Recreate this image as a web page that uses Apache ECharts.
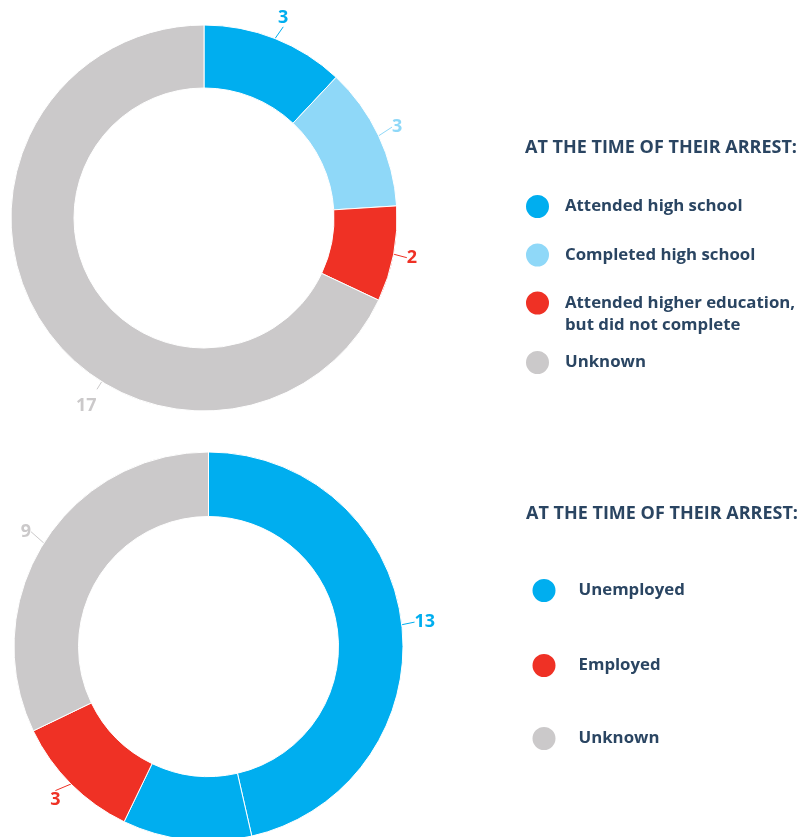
<!DOCTYPE html>
<html>
<head>
<meta charset="utf-8">
<script src="https://cdn.jsdelivr.net/npm/echarts@6/dist/echarts.min.js"></script>
<style>
  html, body { margin: 0; padding: 0; background: #fff; }
  #chart { width: 802px; height: 837px; }
</style>
</head>
<body>
<div id="chart"></div>
<script>
  // education at time of arrest
  var educationNames = ['Attended high school', 'Completed high school', 'Attended higher education, but did not complete', 'Unknown'];
  var educationValues = [3, 3, 2, 17];
  var educationColors = ['#00aeef', '#8fd8f8', '#ef3125', '#cbc9ca'];

  // employment at time of arrest (second blue slice has no label in the source)
  var employmentNames = ['Unemployed', '', 'Employed', 'Unknown'];
  var employmentValues = [13, 3, 3, 9];
  var employmentColors = ['#00aeef', '#00aeef', '#ef3125', '#cbc9ca'];
  var employmentLegend = ['Unemployed', 'Employed', 'Unknown'];

  var titleText = 'AT THE TIME OF THEIR ARREST:';
  var navy = '#2a4562';
  var font = 'Open Sans';

  // the "17" label in the source sits lower-left than the slice middle
  var unknownLabelAngle = 212;

  var topCenter = [204, 218], topRadius = [130, 193];
  var bottomCenter = [208.5, 646.5], bottomRadius = [130, 194.5];
  var lineLen = 9;

  function buildData(names, values, colors) {
    var out = [];
    for (var i = 0; i < values.length; i++) {
      var item = {
        name: names[i],
        value: values[i],
        itemStyle: { color: colors[i] },
        label: { color: colors[i] },
        labelLine: { lineStyle: { color: colors[i] } }
      };
      if (names[i] === '') {
        item.label = { show: false };
        item.labelLine = { show: false };
      }
      out.push(item);
    }
    return out;
  }

  // push each value label a bit further out along its label line
  function radialLabel(p) {
    var pts = p.labelLinePoints;
    if (!pts || pts.length < 2) return {};
    var dx = pts[1][0] - pts[0][0], dy = pts[1][1] - pts[0][1];
    var len = Math.sqrt(dx * dx + dy * dy) || 1;
    dx /= len; dy /= len;
    var end = pts[1];
    var res = {};
    var gap = 3;
    if (p.seriesIndex === 0 && p.dataIndex === 3) {
      var a = unknownLabelAngle * Math.PI / 180;
      dx = Math.sin(a); dy = -Math.cos(a);
      var start = [topCenter[0] + dx * topRadius[1], topCenter[1] + dy * topRadius[1]];
      end = [start[0] + dx * lineLen, start[1] + dy * lineLen];
      res.labelLinePoints = [start, end, end];
      gap = 7;
    }
    var off = gap + 0.5 * Math.abs(dx * p.labelRect.width) + 0.5 * Math.abs(dy * p.labelRect.height);
    res.x = end[0] + dx * off;
    res.y = end[1] + dy * off;
    res.align = 'center';
    res.verticalAlign = 'middle';
    return res;
  }

  function pieSeries(center, radius, data) {
    return {
      type: 'pie',
      center: center,
      radius: radius,
      startAngle: 90,
      clockwise: true,
      avoidLabelOverlap: false,
      itemStyle: { borderColor: '#fff', borderWidth: 1 },
      label: {
        show: true,
        position: 'outside',
        formatter: '{c}',
        fontFamily: font,
        fontWeight: 'bold',
        fontSize: 18
      },
      labelLine: { show: true, length: lineLen, length2: 0, lineStyle: { width: 1 } },
      labelLayout: radialLabel,
      emphasis: { disabled: true },
      data: data
    };
  }

  function legendItem(name, left, top, padLeft, padTop) {
    return {
      orient: 'vertical',
      left: left,
      top: top,
      padding: 0,
      data: [name],
      icon: 'circle',
      itemWidth: 25,
      itemHeight: 25,
      selectedMode: false,
      formatter: function (n) {
        // two-line entry: blank first line keeps the dot level with the first text line
        return n.indexOf(', ') > 0 ? '\n' + n.replace(', ', ',\n') : n;
      },
      textStyle: {
        color: navy,
        fontFamily: font,
        fontWeight: 'bold',
        fontSize: 16.8,
        lineHeight: 22,
        padding: [padTop, 0, 0, padLeft]
      }
    };
  }

  var legends = [];
  var topLegendTops = [193, 241.5, 270, 349];
  for (var i = 0; i < educationNames.length; i++) {
    legends.push(legendItem(educationNames[i], 524, topLegendTops[i], 10, 0));
  }
  var bottomLegendTops = [576.5, 651.5, 724.5];
  for (var j = 0; j < employmentLegend.length; j++) {
    legends.push(legendItem(employmentLegend[j], 530.5, bottomLegendTops[j], 17, 6));
  }

  var titleStyle = { color: navy, fontFamily: font, fontWeight: 'bold', fontSize: 18 };
  var chart = echarts.init(document.getElementById('chart'));
  chart.setOption({
    animation: false,
    backgroundColor: '#fff',
    title: [
      { text: titleText, left: 525, top: 139, padding: 0, textStyle: titleStyle },
      { text: titleText, left: 526, top: 505, padding: 0, textStyle: titleStyle }
    ],
    legend: legends,
    series: [
      pieSeries(topCenter, topRadius, buildData(educationNames, educationValues, educationColors)),
      pieSeries(bottomCenter, bottomRadius, buildData(employmentNames, employmentValues, employmentColors))
    ]
  });
</script>
</body>
</html>
